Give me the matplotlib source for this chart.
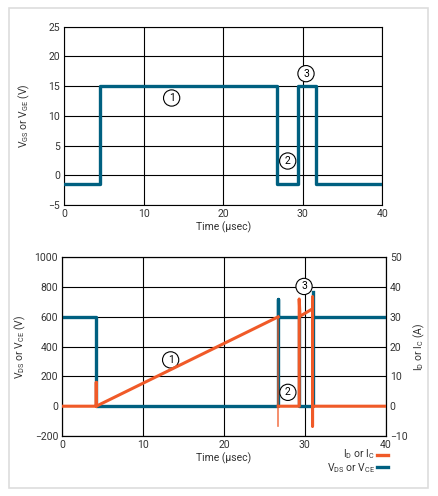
import numpy as np
import matplotlib
matplotlib.use("Agg")
from matplotlib import pyplot as plt
from matplotlib.patches import Rectangle
from matplotlib.lines import Line2D

plt.rcParams['font.family'] = ['Roboto', 'DejaVu Sans']
plt.rcParams['font.size'] = 7.5
plt.rcParams['mathtext.fontset'] = 'custom'
plt.rcParams['mathtext.rm'] = 'Roboto'
plt.rcParams['mathtext.default'] = 'regular'

TEAL = '#006080'
ORANGE = '#f05a28'

# top panel: gate voltage (V)
t_gate = [0, 4.5, 4.5, 26.8, 26.8, 29.4, 29.4, 31.6, 31.6, 40]
v_gate = [-1.4, -1.4, 15, 15, -1.4, -1.4, 15, 15, -1.4, -1.4]

# bottom panel: drain/collector voltage (V), gaps as nan
t_vds = [0, 4.2, 4.2, 26.7, 26.7, 26.7, 29.3, 29.3, 31.0, 31.0, np.nan, 31.35, 40]
v_vds = [600, 600, 0, 0, 720, 600, 600, 0, 0, 770, np.nan, 600, 600]

# bottom panel: drain/collector current (A)
t_id = [0, 4.2, 4.2, 4.2, 26.7, np.nan, 26.7, 29.3, 29.3, 29.4, 30.95, 30.95, 30.95, 30.95, 40]
i_id = [0, 0, 8, 0, 30, np.nan, 0, 0, 36, 30.2, 32.7, 36.7, -6.7, 0, 0]
t_id_thin = [26.7, 26.7]
i_id_thin = [30, -6.7]

# numbered markers (x, y, label)
top_marks = [(13.5, 13.0, '1'), (28.1, 2.4, '2'), (30.4, 17.1, '3')]
bot_marks = [(13.4, 311, '1'), (27.9, 93, '2'), (29.9, 804, '3')]

x_ticks = [0, 10, 20, 30, 40]


def style_axes(ax):
    ax.grid(True, color='black', lw=0.8)
    ax.set_axisbelow(True)
    ax.tick_params(length=0, pad=3, labelcolor='#333333', labelsize=7.5)
    for s in ax.spines.values():
        s.set_linewidth(0.8)
    ax.set_xlim(0, 40)
    ax.set_xticks(x_ticks)
    ax.set_xlabel('Time (µsec)', labelpad=2, color='#333333')


def circle_mark(ax, x, y, s):
    ax.text(x, y, s, ha='center', va='center', fontsize=7.5, zorder=6,
            bbox=dict(boxstyle='circle,pad=0.3', fc='white', ec='black', lw=0.8))


fig = plt.figure(figsize=(4.39, 4.96), dpi=100)
fig.patches.append(Rectangle((9 / 439, 1 - 488 / 496), 419 / 439, 480 / 496,
                             transform=fig.transFigure, fill=False,
                             ec='#dddddd', lw=1.2))

# top chart
ax1 = fig.add_axes([0.1465, 0.5867, 0.7244, 0.3595])
ax1.plot(t_gate, v_gate, color=TEAL, lw=2.4, zorder=3)
ax1.set_ylim(-5, 25)
ax1.set_yticks([-5, 0, 5, 10, 15, 20, 25])
ax1.set_yticklabels(['\u22125', '0', '5', '10', '15', '20', '25'])
style_axes(ax1)
ax1.set_ylabel('V$_{GS}$ or V$_{GE}$ (V)', color='#333333', labelpad=12)
for x, y, s in top_marks:
    circle_mark(ax1, x, y, s)

# bottom chart
ax2 = fig.add_axes([0.1419, 0.121, 0.7367, 0.3603])
ax2.plot(t_vds, v_vds, color=TEAL, lw=2.4, zorder=3)
ax2.set_ylim(-200, 1000)
ax2.set_yticks([-200, 0, 200, 400, 600, 800, 1000])
ax2.set_yticklabels(['\u2212200', '0', '200', '400', '600', '800', '1000'])
style_axes(ax2)
ax2.set_ylabel('V$_{DS}$ or V$_{CE}$ (V)', color='#333333', labelpad=5)

ax3 = ax2.twinx()
ax3.set_ylim(-10, 50)
ax3.set_yticks([-10, 0, 10, 20, 30, 40, 50])
ax3.set_yticklabels(['\u221210', '0', '10', '20', '30', '40', '50'])
ax3.tick_params(length=0, pad=3, labelcolor='#333333', labelsize=7.5)
ax3.plot(t_id, i_id, color=ORANGE, lw=2.2, zorder=4)
ax3.plot(t_id_thin, i_id_thin, color=ORANGE, lw=1.2, alpha=0.8, zorder=4)
ax3.set_ylabel('I$_D$ or I$_C$ (A)', color='#333333', labelpad=3)
for x, y, s in bot_marks:
    circle_mark(ax2, x, y, s)

# legend below the bottom chart
fig.text(375 / 439, 1 - 454 / 496, 'I$_D$ or I$_C$', ha='right', va='center',
         color='#333333', fontsize=7.5)
fig.text(375 / 439, 1 - 468 / 496, 'V$_{DS}$ or V$_{CE}$', ha='right', va='center',
         color='#333333', fontsize=7.5)
fig.lines.append(Line2D([377 / 439, 388 / 439], [1 - 455 / 496] * 2,
                        transform=fig.transFigure, color=ORANGE, lw=2.4))
fig.lines.append(Line2D([377 / 439, 388 / 439], [1 - 467 / 496] * 2,
                        transform=fig.transFigure, color=TEAL, lw=2.4))

fig.savefig('out.png', dpi=100)
